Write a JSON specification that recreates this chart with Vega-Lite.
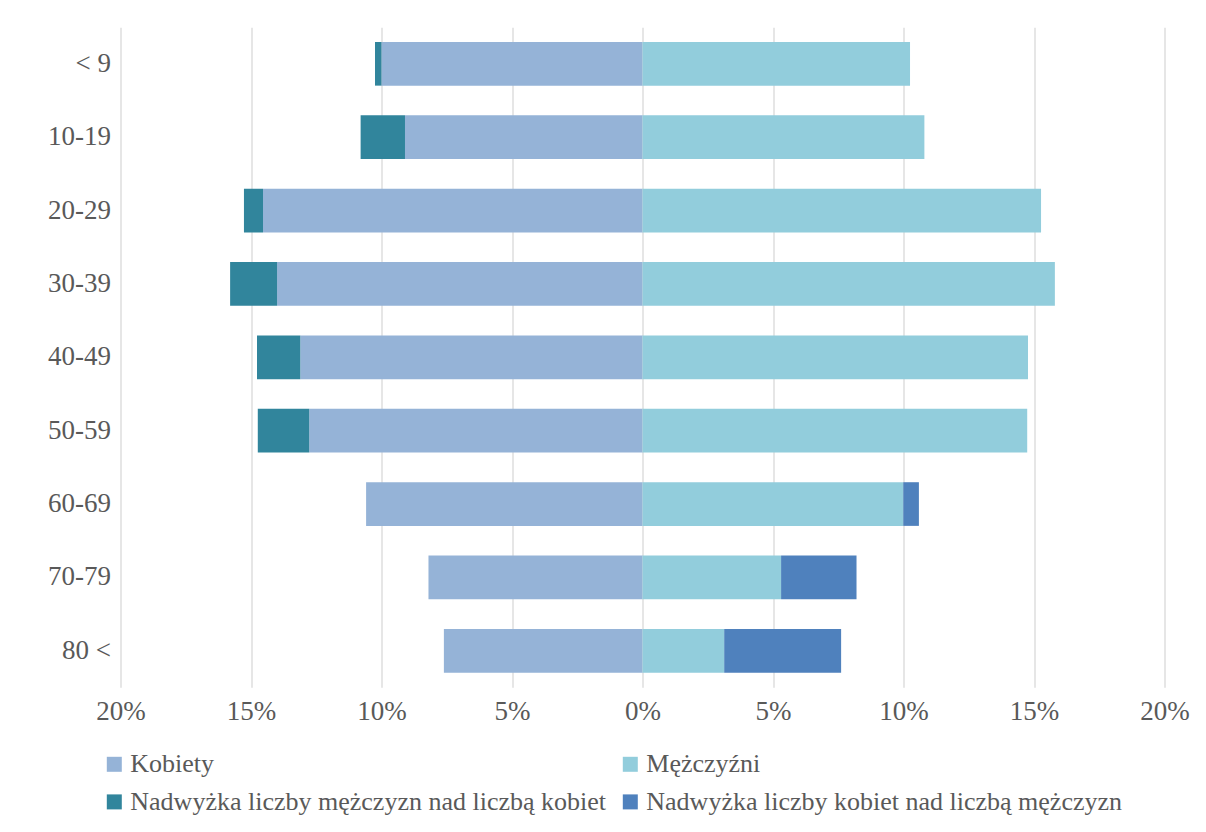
{
  "$schema": "https://vega.github.io/schema/vega-lite/v6.json",
  "width": 1044,
  "height": 660,
  "autosize": {"type": "none"},
  "padding": {"left": 120.5, "top": 27.3, "right": 41.5, "bottom": 144.7},
  "background": "white",
  "config": {"view": {"stroke": null}, "font": "Liberation Serif"},
  "data": {
    "values": [
      {"age": "< 9", "series": "Kobiety", "value": -10.0},
      {"age": "< 9", "series": "Mężczyźni", "value": 10.25},
      {"age": "< 9", "series": "Nadwyżka liczby mężczyzn nad liczbą kobiet", "value": -0.25},
      {"age": "10-19", "series": "Kobiety", "value": -9.1},
      {"age": "10-19", "series": "Mężczyźni", "value": 10.8},
      {"age": "10-19", "series": "Nadwyżka liczby mężczyzn nad liczbą kobiet", "value": -1.7},
      {"age": "20-29", "series": "Kobiety", "value": -14.54},
      {"age": "20-29", "series": "Mężczyźni", "value": 15.27},
      {"age": "20-29", "series": "Nadwyżka liczby mężczyzn nad liczbą kobiet", "value": -0.73},
      {"age": "30-39", "series": "Kobiety", "value": -14.0},
      {"age": "30-39", "series": "Mężczyźni", "value": 15.8},
      {"age": "30-39", "series": "Nadwyżka liczby mężczyzn nad liczbą kobiet", "value": -1.8},
      {"age": "40-49", "series": "Kobiety", "value": -13.11},
      {"age": "40-49", "series": "Mężczyźni", "value": 14.77},
      {"age": "40-49", "series": "Nadwyżka liczby mężczyzn nad liczbą kobiet", "value": -1.66},
      {"age": "50-59", "series": "Kobiety", "value": -12.77},
      {"age": "50-59", "series": "Mężczyźni", "value": 14.74},
      {"age": "50-59", "series": "Nadwyżka liczby mężczyzn nad liczbą kobiet", "value": -1.97},
      {"age": "60-69", "series": "Kobiety", "value": -10.59},
      {"age": "60-69", "series": "Mężczyźni", "value": 9.99},
      {"age": "60-69", "series": "Nadwyżka liczby kobiet nad liczbą mężczyzn", "value": 0.6},
      {"age": "70-79", "series": "Kobiety", "value": -8.2},
      {"age": "70-79", "series": "Mężczyźni", "value": 5.31},
      {"age": "70-79", "series": "Nadwyżka liczby kobiet nad liczbą mężczyzn", "value": 2.89},
      {"age": "80 <", "series": "Kobiety", "value": -7.61},
      {"age": "80 <", "series": "Mężczyźni", "value": 3.13},
      {"age": "80 <", "series": "Nadwyżka liczby kobiet nad liczbą mężczyzn", "value": 4.48}
    ]
  },
  "mark": {"type": "bar"},
  "encoding": {
    "y": {
      "field": "age",
      "type": "nominal",
      "sort": ["< 9", "10-19", "20-29", "30-39", "40-49", "50-59", "60-69", "70-79", "80 <"],
      "scale": {"paddingInner": 0.405, "paddingOuter": 0.2},
      "axis": {
        "title": null,
        "ticks": false,
        "domain": false,
        "labelFont": "Liberation Serif",
        "labelFontSize": 27,
        "labelColor": "#595959",
        "labelPadding": 10
      }
    },
    "x": {
      "field": "value",
      "type": "quantitative",
      "stack": "zero",
      "scale": {"domain": [-20, 20], "nice": false},
      "axis": {
        "title": null,
        "values": [-20, -15, -10, -5, 0, 5, 10, 15, 20],
        "labelExpr": "abs(datum.value) + '%'",
        "labelFlush": false,
        "grid": true,
        "gridColor": "#d9d9d9",
        "gridWidth": 1.3,
        "domain": false,
        "ticks": false,
        "labelFont": "Liberation Serif",
        "labelFontSize": 27,
        "labelColor": "#595959",
        "labelPadding": 11
      }
    },
    "color": {
      "field": "series",
      "type": "nominal",
      "scale": {
        "domain": ["Kobiety", "Mężczyźni", "Nadwyżka liczby mężczyzn nad liczbą kobiet", "Nadwyżka liczby kobiet nad liczbą mężczyzn"],
        "range": ["#95B3D7", "#92CDDC", "#31859C", "#4F81BD"]
      },
      "legend": {
        "title": null,
        "orient": "none",
        "direction": "horizontal",
        "legendX": -19.2,
        "legendY": 724,
        "columns": 2,
        "columnPadding": 11,
        "rowPadding": 11.6,
        "padding": 0,
        "symbolType": "square",
        "symbolSize": 225,
        "symbolStrokeWidth": 0,
        "labelOffset": 3,
        "labelFont": "Liberation Serif",
        "labelFontSize": 26,
        "labelColor": "#595959",
        "labelLimit": 0
      }
    },
    "order": {"field": "series", "type": "ordinal", "sort": "ascending"}
  }
}
